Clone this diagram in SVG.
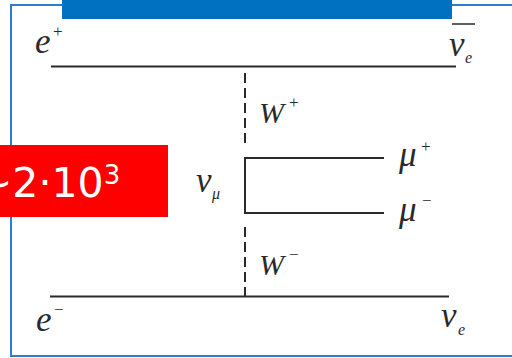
<svg xmlns="http://www.w3.org/2000/svg" width="512" height="358" viewBox="0 0 512 358">
  <style>
    .ln { stroke: #2a2a2a; stroke-width: 2; fill: none; }
    .dash { stroke: #2a2a2a; stroke-width: 2; fill: none; stroke-dasharray: 10 5; }
    .lab { font-family: "Liberation Serif", "Times New Roman", serif; font-style: italic; fill: #2a2a2a; }
    .big { font-size: 35px; }
    .sub { font-size: 16px; }
    .sup { font-size: 17px; font-style: normal; }
  </style>
  <rect x="0" y="0" width="512" height="358" fill="#ffffff"/>
  <g id="frame">
    <rect x="11" y="5" width="505" height="351" fill="none" stroke="#2a7dd1" stroke-width="2"/>
    <rect x="62" y="0" width="390" height="19" fill="#0070c0"/>
  </g>
  <g id="connectors">
    <line class="ln" x1="51" y1="66.5" x2="456" y2="66.5"/>
    <line class="ln" x1="50" y1="296.5" x2="449" y2="296.5"/>
    <line class="dash" x1="245" y1="73" x2="245" y2="146"/>
    <line class="dash" x1="245" y1="227" x2="245" y2="296"/>
    <polyline class="ln" points="384,158 245,158 245,213 384,213"/>
  </g>
  <g id="e-plus">
    <text class="lab big" x="35" y="53">e</text>
    <text class="lab sup" x="53" y="37">+</text>
  </g>
  <g id="nu-e-bar">
    <line x1="452" y1="24" x2="475" y2="24" stroke="#2a2a2a" stroke-width="1.5"/>
    <text class="lab big" x="449" y="56">ν</text>
    <text class="lab sub" x="465" y="63">e</text>
  </g>
  <g id="w-plus">
    <text class="lab" font-size="30" x="259" y="123">W</text>
    <text class="lab sup" x="289" y="108">+</text>
  </g>
  <g id="nu-mu">
    <text class="lab big" x="196" y="192">ν</text>
    <text class="lab sub" x="212" y="199">μ</text>
  </g>
  <g id="mu-plus">
    <text class="lab big" x="399" y="166">μ</text>
    <text class="lab sup" x="421" y="152">+</text>
  </g>
  <g id="mu-minus">
    <text class="lab big" x="399" y="221">μ</text>
    <text class="lab sup" x="422" y="206">−</text>
  </g>
  <g id="w-minus">
    <text class="lab" font-size="30" x="259" y="275">W</text>
    <text class="lab sup" x="289" y="260">−</text>
  </g>
  <g id="e-minus">
    <text class="lab big" x="36" y="331">e</text>
    <text class="lab sup" x="54" y="315">−</text>
  </g>
  <g id="nu-e">
    <text class="lab big" x="441" y="327">ν</text>
    <text class="lab sub" x="458" y="335">e</text>
  </g>
  <g id="ratio-badge">
    <rect x="0" y="145" width="168" height="72" fill="#ff0000"/>
    <text x="-22" y="197" font-family="DejaVu Sans, sans-serif" font-size="41" fill="#ffffff">∼2·10<tspan dy="-13" font-size="26">3</tspan></text>
  </g>
</svg>
